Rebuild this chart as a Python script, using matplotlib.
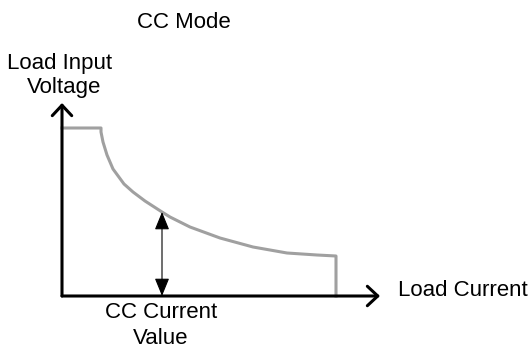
import matplotlib
matplotlib.use('Agg')
import matplotlib.pyplot as plt
from matplotlib.patches import FancyArrowPatch

# load curve (current, voltage in pixel-like units from origin)
current = [0, 39, 39, 41, 45, 51, 62, 71, 83, 100, 108, 128, 158, 191, 225, 255, 274, 274]
voltage = [168, 168, 164, 154, 141, 127, 112, 104, 95, 84, 79, 69, 58, 49, 43, 41, 40, 0]

cc_current = 100
cc_voltage = 84
i_axis_end = 318
v_axis_end = 193

plt.rcParams['font.family'] = ['Liberation Sans', 'DejaVu Sans']

fig = plt.figure(figsize=(5.32, 3.49), dpi=100)
ax = fig.add_axes([0, 0, 1, 1])
ax.set_xlim(-62, 470)
ax.set_ylim(-53, 296)
ax.axis('off')

# gray load curve
ax.plot(current, voltage, color='#a0a0a0', lw=2.2, solid_joinstyle='round', zorder=2)

# axes with open arrow heads
for end in [(i_axis_end, 0), (0, v_axis_end)]:
    ax.add_patch(FancyArrowPatch((0, 0), end, arrowstyle='->,head_length=0.75,head_width=0.7',
                                 mutation_scale=10, lw=2.2, color='black',
                                 shrinkA=0, shrinkB=0, zorder=3))

# double arrow marking CC value
ax.add_patch(FancyArrowPatch((cc_current, 0), (cc_current, cc_voltage),
                             arrowstyle='<|-|>,head_length=1.1,head_width=0.45',
                             mutation_scale=10, lw=0.8, color='black',
                             shrinkA=0, shrinkB=0, zorder=3))

fs = 16
ax.text(122, 274, 'CC Mode', fontsize=fs, ha='center', va='center')
ax.text(-2, 233, 'Load Input', fontsize=fs, ha='center', va='center')
ax.text(2, 209, 'Voltage', fontsize=fs, ha='center', va='center')
ax.text(336, 6, 'Load Current', fontsize=fs, ha='left', va='center')
ax.text(99, -17, 'CC Current', fontsize=fs, ha='center', va='center')
ax.text(99, -42, 'Value', fontsize=fs, ha='center', va='center')

fig.savefig('out.png', dpi=100)
